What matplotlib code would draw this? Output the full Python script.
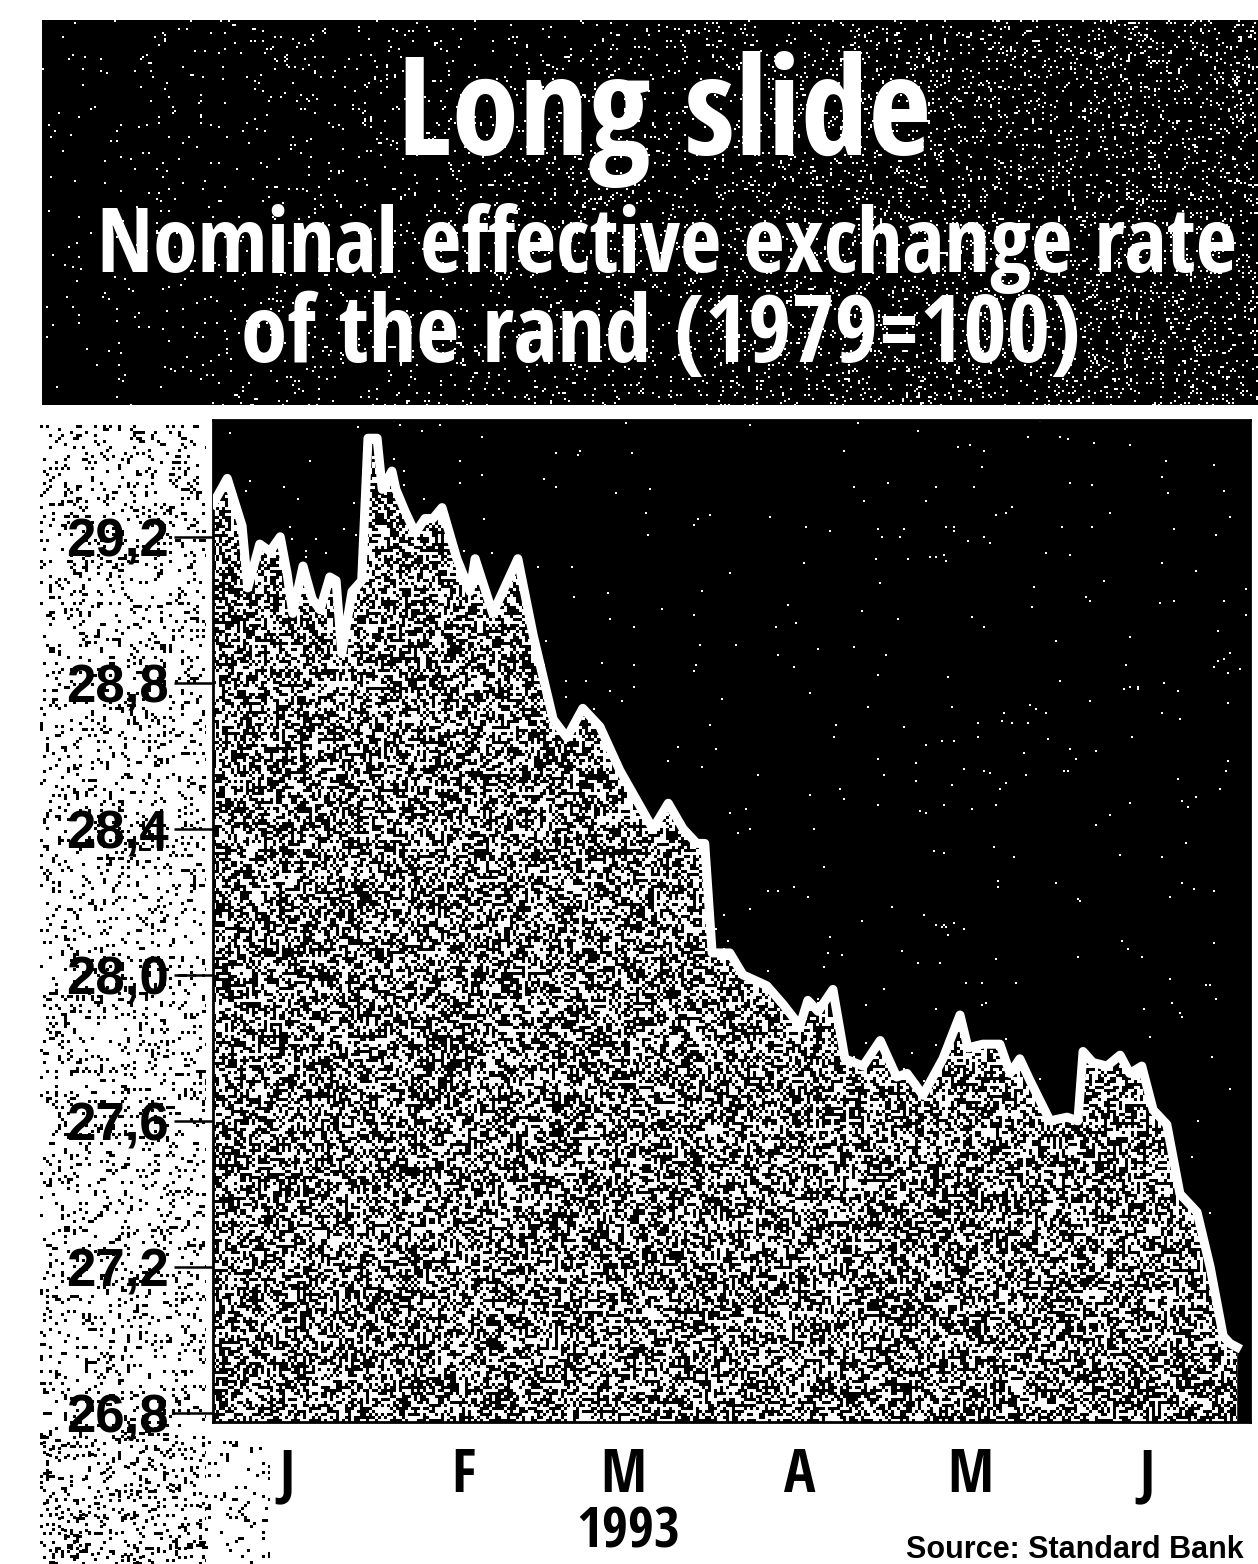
import numpy as np
import matplotlib
matplotlib.use("Agg")
import matplotlib.pyplot as plt
from matplotlib.patches import Rectangle
from matplotlib import font_manager as fm
from matplotlib.textpath import TextPath

# Nominal effective exchange rate of the rand (1979=100), first half of 1993
# day of year (0 = 1 January) and index value
days = [0, 2.5, 5.1, 6.1, 8.2, 10.0, 11.8, 13.0, 14.0, 15.8,
        17.4, 18.8, 20.5, 21.6, 22.6, 24.4, 26.1, 27.2, 28.8, 29.7,
        31.4, 32.1, 33.7, 35.5, 37.2, 38.6, 40.2, 42.8, 45.1, 46.0,
        49.1, 53.5, 56.2, 59.7, 62.1, 64.9, 67.9, 71.4, 77.2, 79.9,
        82.5, 84.9, 86.3, 87.6, 90.7, 93.0, 97.2, 100.0, 103.0, 104.4,
        106.2, 108.8, 110.9, 114.1, 117.1, 120.0, 121.8, 124.6, 128.1, 131.1,
        132.5, 135.1, 138.1, 139.9, 141.6, 143.4, 146.9, 149.9, 151.8, 152.7,
        154.4, 156.9, 159.2, 160.9, 163.0, 165.0, 167.4, 169.7, 172.7, 175.0,
        177.3, 178.5, 179.7]
values = [29.29, 29.36, 29.23, 29.06, 29.18, 29.16, 29.20, 29.10, 28.99, 29.12,
          29.03, 29.00, 29.09, 29.08, 28.88, 29.05, 29.08, 29.47, 29.47, 29.33,
          29.38, 29.33, 29.27, 29.21, 29.25, 29.25, 29.28, 29.14, 29.05, 29.14,
          28.99, 29.14, 28.93, 28.70, 28.65, 28.73, 28.68, 28.56, 28.40, 28.47,
          28.40, 28.36, 28.36, 28.06, 28.06, 28.00, 27.97, 27.92, 27.86, 27.93,
          27.90, 27.96, 27.77, 27.75, 27.82, 27.72, 27.73, 27.67, 27.77, 27.89,
          27.80, 27.81, 27.81, 27.73, 27.77, 27.71, 27.60, 27.61, 27.60, 27.79,
          27.76, 27.75, 27.78, 27.73, 27.75, 27.63, 27.59, 27.40, 27.35, 27.20,
          27.01, 26.99, 26.98]

month_labels = ["J", "F", "M", "A", "M", "J"]
month_starts = [0, 31, 59, 90, 120, 151]
y_ticks = [26.8, 27.2, 27.6, 28.0, 28.4, 28.8, 29.2]
y_tick_labels = [f"{v:.1f}".replace(".", ",") for v in y_ticks]

title = "Long slide"
subtitle_1 = "Nominal effective exchange rate"
subtitle_2 = "of the rand (1979=100)"
year_label = "1993"
source = "Source: Standard Bank"

SANS_FAMILIES = ("DejaVu Sans", "Liberation Sans", "Noto Sans", "Roboto",
                 "Open Sans", "Lato", "Inter")


def _weight(f):
    if isinstance(f.weight, int):
        return f.weight
    return 700 if "bold" in str(f.weight).lower() else 400


def pick_headline_face(sample="Long slide", target_ratio=5.45):
    """Plain bold sans face whose width/cap-height suits a condensed headline."""
    best, best_err = None, None
    seen = set()
    for f in fm.fontManager.ttflist:
        if f.fname in seen or f.style != "normal":
            continue
        seen.add(f.fname)
        if not f.name.startswith(SANS_FAMILIES):
            continue
        if any(k in f.name for k in ("Mono", "CJK", "Display", "Symbols", "Math")):
            continue
        if not (600 <= _weight(f) <= 800):
            continue
        try:
            fp = fm.FontProperties(fname=f.fname)
            wid = TextPath((0, 0), sample, size=100, prop=fp).get_extents().width
            cap = TextPath((0, 0), "L", size=100, prop=fp).get_extents().height
        except Exception:
            continue
        if cap <= 0:
            continue
        err = abs(wid / cap - target_ratio)
        if best_err is None or err < best_err:
            best, best_err = f.fname, err
    if best is None:
        return fm.FontProperties(family=["Liberation Sans", "DejaVu Sans"], weight="bold")
    return fm.FontProperties(fname=best)


COND = pick_headline_face()
BOLD = fm.FontProperties(family=["Liberation Sans", "DejaVu Sans"], weight="bold")

W, H, DPI = 1258, 1564, 100
fig = plt.figure(figsize=(W / DPI, H / DPI), dpi=DPI, facecolor="white")
renderer = fig.canvas.get_renderer()

rng = np.random.default_rng(1993)


def speckle(h, w, density, cell=3):
    """Blocky print-screen speckle mask."""
    m = rng.random((h // cell + 1, w // cell + 1)) < density
    return np.kron(m, np.ones((cell, cell), dtype=bool))[:h, :w]


def size_for_height(fp, glyph, height_px):
    """Font size (pt) at which `glyph` stands height_px tall."""
    frac = TextPath((0, 0), glyph, size=100, prop=fp).get_extents().height / 100
    return height_px / frac * 72 / DPI


def fit_width(t, width_px):
    """Scale a text's font size so that its rendered width is width_px."""
    bb = t.get_window_extent(renderer=renderer)
    t.set_fontsize(t.get_fontsize() * width_px / bb.width)


def cond_text(x, y, s, size, width_px=None, **kw):
    fp = COND.copy()
    fp.set_size(size)
    t = fig.text(x, y, s, fontproperties=fp, **kw)
    if width_px is not None:
        fit_width(t, width_px)
    return t


# ---- title panel -------------------------------------------------------
fig.patches.append(Rectangle((42 / W, 1 - 405 / H), 1 - 42 / W, 385 / H,
                             transform=fig.transFigure, facecolor="black",
                             edgecolor="none", zorder=1))

# paper grain: white flecks on the title panel, dark flecks in the margins
grain = np.zeros((H, W, 4))
ramp = np.linspace(0.005, 0.09, (W - 42) // 2 + 1)[None, :]
panel = rng.random((385 // 2 + 1, (W - 42) // 2 + 1)) < ramp
panel = np.kron(panel, np.ones((2, 2), dtype=bool))[:385, :W - 42]
grain[20:405, 42:W][panel] = [1, 1, 1, 1]
margin = speckle(H - 425, 166, 0.13)
grain[425:H, 40:206][margin] = [0, 0, 0, 1]
under = speckle(H - 1432, 230, 0.08)
grain[1432:H, 40:270][under] = [0, 0, 0, 1]
fig.figimage(grain, 0, 0, origin="upper", zorder=1.5)

cond_text(0.528, 1 - 155 / H, title, 93, width_px=534, ha="center",
          va="baseline", color="white", zorder=3)
cond_text(0.53, 1 - 272 / H, subtitle_1, 65, width_px=1140, ha="center",
          va="baseline", color="white", zorder=3)
cond_text(0.525, 1 - 362 / H, subtitle_2, 65, width_px=840, ha="center",
          va="baseline", color="white", zorder=3)

# ---- chart -------------------------------------------------------------
ax = fig.add_axes([213 / W, 1 - 1422 / H, (1250 - 213) / W, (1422 - 420) / H],
                  zorder=2)
ax.set_facecolor("black")
x0, x1 = 0, 182
y0, y1 = 26.775, 29.52

area = ax.fill_between(days, values, y0, color="#808080", lw=0, zorder=1)

tex_h, tex_w = 1002, 1037
fill_tex = np.zeros((tex_h, tex_w, 4))
fill_tex[..., 3] = 1
fill_tex[speckle(tex_h, tex_w, 0.5)] = [1, 1, 1, 1]
im = ax.imshow(fill_tex, extent=(x0, x1, y0, y1), aspect="auto",
               interpolation="nearest", zorder=2)
im.set_clip_path(area.get_paths()[0], transform=ax.transData)

stars = np.zeros((tex_h, tex_w, 4))
stars[speckle(tex_h, tex_w, 0.003, cell=2)] = [1, 1, 1, 1]
ax.imshow(stars, extent=(x0, x1, y0, y1), aspect="auto",
          interpolation="nearest", zorder=0.5)

ax.plot(days, values, color="white", lw=6.5, solid_joinstyle="round", zorder=3)

ax.set_xlim(x0, x1)
ax.set_ylim(y0, y1)

ax.set_yticks(y_ticks)
ax.set_yticklabels(y_tick_labels, fontproperties=BOLD, fontsize=38)
ax.tick_params(axis="y", length=28, width=1.8, pad=4, color="black")

ax.set_xticks([s + 13 for s in month_starts])
xfp = COND.copy()
xfp.set_size(size_for_height(COND, "F", 42))
ax.set_xticklabels(month_labels, fontproperties=xfp)
ax.tick_params(axis="x", length=0, pad=18)

for side in ax.spines.values():
    side.set_color("black")
    side.set_linewidth(2)

yfp = COND.copy()
yfp.set_size(size_for_height(COND, "1", 40))
fig.text(628 / W, 3 / H, year_label, ha="center", va="bottom",
         fontproperties=yfp, color="black", zorder=3)
bfp = BOLD.copy()
bfp.set_size(22)
fig.text(1244 / W, 6 / H, source, ha="right", va="baseline",
         fontproperties=bfp, zorder=3)

fig.savefig("out.png", dpi=DPI, facecolor="white")
